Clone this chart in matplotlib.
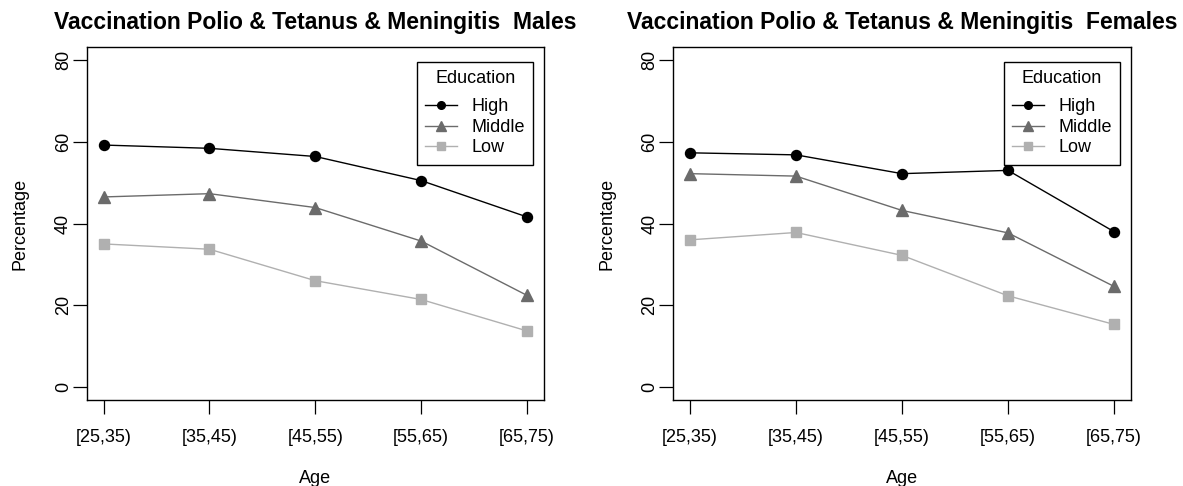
import matplotlib
matplotlib.use("Agg")
import matplotlib.pyplot as plt
import numpy as np

plt.rcParams['font.family'] = ['Liberation Sans', 'DejaVu Sans']

# Data
age_groups = ["[25,35)", "[35,45)", "[45,55)", "[55,65)", "[65,75)"]
education = ["High", "Middle", "Low"]

males_high = [59.2, 58.4, 56.4, 50.5, 41.6]
males_middle = [46.5, 47.3, 43.9, 35.7, 22.4]
males_low = [35.0, 33.7, 26.0, 21.4, 13.7]

females_high = [57.3, 56.8, 52.2, 53.0, 38.0]
females_middle = [52.2, 51.6, 43.2, 37.7, 24.6]
females_low = [36.0, 37.8, 32.2, 22.3, 15.3]

colors = ["black", "#6b6b6b", "#b0b0b0"]
markers = ["o", "^", "s"]
msizes = [7.2, 8.5, 6.8]
leg_msizes = [5.5, 6.5, 5.2]

fs = 13

fig = plt.figure(figsize=(11.83, 4.86), dpi=100)
ax_m = fig.add_axes([86.7 / 1183, 1 - 400 / 486, 457.3 / 1183, 353 / 486])
ax_f = fig.add_axes([673 / 1183, 1 - 400 / 486, 458 / 1183, 353 / 486])


def draw_panel(ax, series, title):
    x = np.arange(1, len(age_groups) + 1)
    handles = []
    for vals, c, m, ms, lms, lab in zip(series, colors, markers, msizes, leg_msizes, education):
        ax.plot(x, vals, color=c, lw=1.0, marker=m, ms=ms, mec=c, mfc=c)
        h, = ax.plot([], [], color=c, lw=1.0, marker=m, ms=lms, mec=c, mfc=c, label=lab)
        handles.append(h)
    ax.set_xlim(0.84, 5.16)
    ax.set_ylim(-3.2, 83.2)
    ax.set_xticks(x)
    ax.set_xticklabels(age_groups, fontsize=fs)
    ax.set_yticks([0, 20, 40, 60, 80])
    ax.set_yticklabels(["0", "20", "40", "60", "80"], fontsize=fs, rotation=90, va="center")
    ax.tick_params(axis="x", length=10, width=0.9, pad=11)
    ax.tick_params(axis="y", length=10, width=0.9, pad=0.5)
    for sp in ax.spines.values():
        sp.set_linewidth(1.0)
    ax.set_xlabel("Age", fontsize=fs, labelpad=17)
    ax.set_ylabel("Percentage", fontsize=fs, labelpad=19)
    ax.set_title(title, fontsize=16.5, fontweight="bold", pad=13)
    leg = ax.legend(handles=handles, title="Education", loc="upper right",
                    bbox_to_anchor=(0.976, 0.9575), borderaxespad=0,
                    fontsize=fs, title_fontsize=fs, fancybox=False,
                    edgecolor="black", framealpha=1, handlelength=1.75,
                    handletextpad=0.8, labelspacing=0.2, borderpad=0.45)
    leg.get_frame().set_linewidth(1.0)
    # extra room between the legend title and its entries
    leg._legend_box.sep = 8


draw_panel(ax_m, [males_high, males_middle, males_low],
           "Vaccination Polio & Tetanus & Meningitis  Males")
draw_panel(ax_f, [females_high, females_middle, females_low],
           "Vaccination Polio & Tetanus & Meningitis  Females")

fig.savefig("out.png", dpi=100)
